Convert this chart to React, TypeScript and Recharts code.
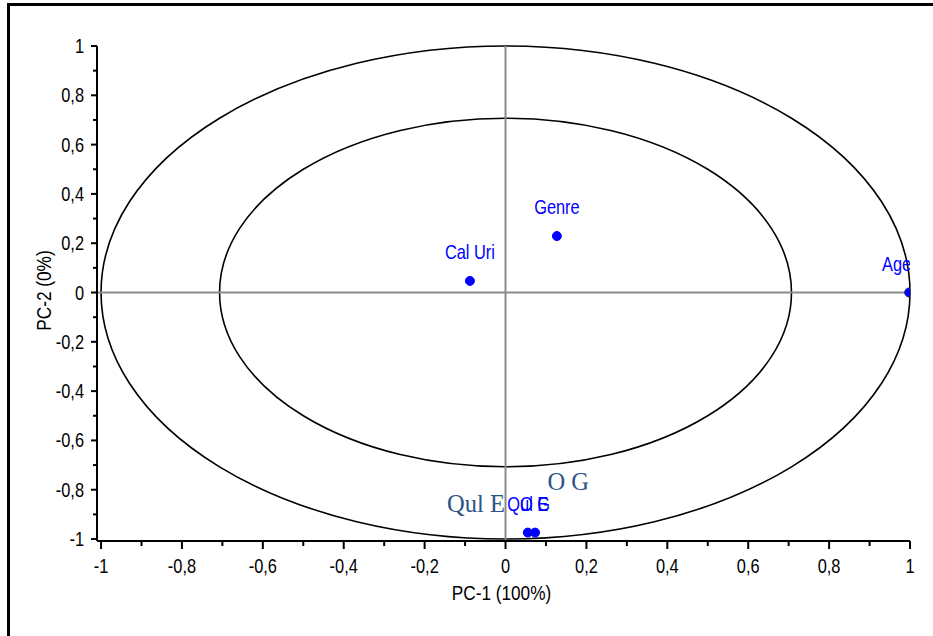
import React from "react";
import {
  ScatterChart,
  Scatter,
  XAxis,
  YAxis,
  ReferenceLine,
  ReferenceArea,
} from "recharts";

// loadings on the first two components
const varNames = ["Cal Uri", "Genre", "Age", "Qul E", "O G"];
const pc1 = [-0.088, 0.127, 0.998, 0.055, 0.073];
const pc2 = [0.047, 0.229, 0.0, -0.974, -0.974];

// moved copies of the two bottom labels (serif, as in the source plot)
const noteNames = ["Qul E", "O G"];
const noteX = [-0.073, 0.155];
const noteY = [-0.89, -0.803];

// correlation circles
const circleRadii = [1, 0.707];

const xTicks = [-1, -0.9, -0.8, -0.7, -0.6, -0.5, -0.4, -0.3, -0.2, -0.1, 0, 0.1, 0.2, 0.3, 0.4, 0.5, 0.6, 0.7, 0.8, 0.9, 1];
const yTicks = [-1, -0.9, -0.8, -0.7, -0.6, -0.5, -0.4, -0.3, -0.2, -0.1, 0, 0.1, 0.2, 0.3, 0.4, 0.5, 0.6, 0.7, 0.8, 0.9, 1];

const points = varNames.map((name, i) => ({ name, x: pc1[i], y: pc2[i] }));
const notes = noteNames.map((name, i) => ({ name, x: noteX[i], y: noteY[i] }));

const FONT = "'Liberation Sans', Arial, sans-serif";
const BLUE = "#0000ff";

const fmt = (v: number) => {
  const s = Math.abs(v) < 1e-9 ? "0" : Number(v.toFixed(1)).toString();
  return s.replace(".", ",");
};
const isMajor = (v: number) => Math.round(v * 10) % 2 === 0;

// narrow-looking sans text (source uses a condensed face)
const NText = ({ x, y, anchor = "middle", size = 20, fill = "#000", rotate = 0, children }: any) => (
  <text
    transform={`translate(${x},${y}) rotate(${rotate}) scale(0.82,1)`}
    x={0}
    y={0}
    textAnchor={anchor}
    fontFamily={FONT}
    fontSize={size}
    fill={fill}
  >
    {children}
  </text>
);

const XTick = (props: any) => {
  const { x, y, payload } = props;
  const major = isMajor(payload.value);
  return (
    <g>
      <line x1={x} x2={x} y1={y} y2={y + (major ? 8 : 5)} stroke="#000" strokeWidth={2} />
      {major && <NText x={x} y={y + 32}>{fmt(payload.value)}</NText>}
    </g>
  );
};

const YTick = (props: any) => {
  const { x, y, payload } = props;
  const major = isMajor(payload.value);
  return (
    <g>
      <line x1={x} x2={x - (major ? 6 : 4)} y1={y} y2={y} stroke="#000" strokeWidth={2} />
      {major && (
        <NText x={x - 13} y={y + 7} anchor="end">
          {fmt(payload.value)}
        </NText>
      )}
    </g>
  );
};

const Ellipse = (props: any) => {
  const { x, y, width, height } = props;
  return (
    <ellipse
      cx={x + width / 2}
      cy={y + height / 2}
      rx={width / 2}
      ry={height / 2}
      fill="none"
      stroke="#000"
      strokeWidth={1.6}
    />
  );
};

const PointShape = (props: any) => {
  const { cx, cy, payload } = props;
  const atEdge = payload.x > 0.9;
  return (
    <g>
      <circle
        cx={cx}
        cy={cy}
        r={4.5}
        fill={BLUE}
        stroke={atEdge ? "#1c1c70" : BLUE}
        strokeWidth={1}
      />
      <NText x={atEdge ? cx + 2 : cx} y={cy - 22} anchor={atEdge ? "end" : "middle"} fill={BLUE}>
        {payload.name}
      </NText>
    </g>
  );
};

const NoteShape = (props: any) => {
  const { cx, cy, payload } = props;
  return (
    <text
      x={cx}
      y={cy}
      textAnchor="middle"
      fontFamily="'Liberation Serif', 'Times New Roman', serif"
      fontSize={24.5}
      fill="#2e5287"
    >
      {payload.name}
    </text>
  );
};

export default function App() {
  return (
    <div
      style={{
        position: "absolute",
        left: 0,
        top: 0,
        width: 933,
        height: 636,
        overflow: "hidden",
        background: "#fff",
      }}
    >
      <div
        style={{
          position: "absolute",
          left: 7,
          top: 3,
          width: 1200,
          height: 1200,
          border: "3px solid #000",
        }}
      />
      <div style={{ position: "absolute", left: 0, top: 0 }}>
        <ScatterChart
          width={933}
          height={636}
          margin={{ top: 46, right: 23, bottom: 0, left: 0 }}
        >
          <XAxis
            type="number"
            dataKey="x"
            domain={[-1.01, 1]}
            ticks={xTicks}
            interval={0}
            height={95}
            tickSize={0}
            tickMargin={0}
            tick={<XTick />}
            axisLine={{ stroke: "#000", strokeWidth: 2 }}
            allowDataOverflow
            label={{
              content: (p: any) => {
                const vb = p.viewBox || { x: 97, y: 541, width: 813, height: 95 };
                return (
                  <NText x={vb.x + vb.width / 2 - 2} y={vb.y + 59} size={21}>
                    PC-1 (100%)
                  </NText>
                );
              },
            }}
          />
          <YAxis
            type="number"
            dataKey="y"
            domain={[-1.008, 1]}
            ticks={yTicks}
            interval={0}
            width={97}
            tickSize={0}
            tickMargin={0}
            tick={<YTick />}
            axisLine={{ stroke: "#000", strokeWidth: 2 }}
            allowDataOverflow
            label={{
              content: (p: any) => {
                const vb = p.viewBox || { x: 0, y: 46, width: 97, height: 495 };
                return (
                  <NText x={51} y={vb.y + vb.height / 2 - 3} size={21} rotate={-90}>
                    PC-2 (0%)
                  </NText>
                );
              },
            }}
          />
          {circleRadii.map((r) => (
            <ReferenceArea
              key={r}
              x1={-r}
              x2={r}
              y1={-r}
              y2={r}
              shape={<Ellipse />}
              ifOverflow="visible"
            />
          ))}
          <ReferenceLine x={0} stroke="#8c8c8c" strokeWidth={2} />
          <ReferenceLine y={0} stroke="#8c8c8c" strokeWidth={2} />
          <Scatter data={notes} shape={<NoteShape />} isAnimationActive={false} />
          <Scatter data={points} shape={<PointShape />} isAnimationActive={false} />
        </ScatterChart>
      </div>
    </div>
  );
}
